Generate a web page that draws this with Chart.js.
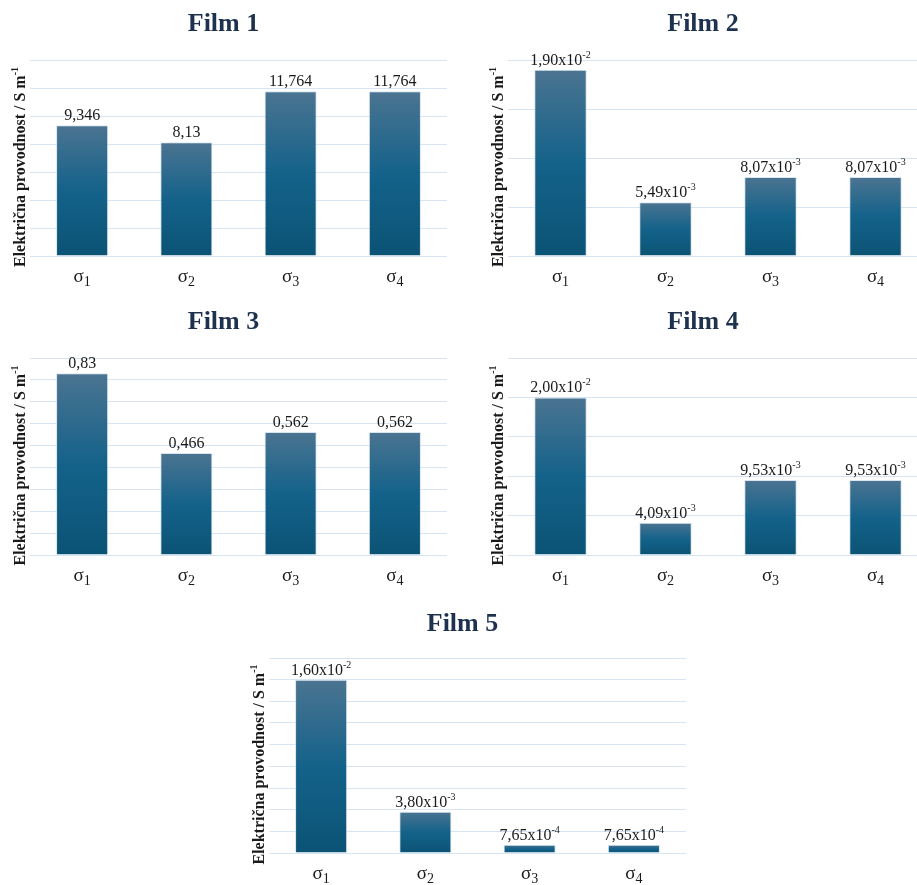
<!DOCTYPE html>
<html>
<head>
<meta charset="utf-8">
<title>Električna provodnost filmova</title>
<script src="https://cdn.jsdelivr.net/npm/chart.js@4.4.1/dist/chart.umd.min.js"></script>
<style>
  html, body { margin: 0; padding: 0; background: #fff; overflow: hidden; }
  body { width: 917px; height: 885px; position: relative; }
  .panel { position: absolute; }
</style>
</head>
<body>
<canvas id="film1" class="panel"></canvas>
<canvas id="film2" class="panel"></canvas>
<canvas id="film3" class="panel"></canvas>
<canvas id="film4" class="panel"></canvas>
<canvas id="film5" class="panel"></canvas>
<script>
const categories = ['σ1', 'σ2', 'σ3', 'σ4'];
const filmTitles = ['Film 1', 'Film 2', 'Film 3', 'Film 4', 'Film 5'];

// conductivity, S m-1
const film1Values = [9.346, 8.13, 11.764, 11.764];
const film2Values = [0.019, 0.00549, 0.00807, 0.00807];
const film3Values = [0.83, 0.466, 0.562, 0.562];
const film4Values = [0.02, 0.00409, 0.00953, 0.00953];
const film5Values = [0.016, 0.0038, 0.000765, 0.000765];

const axisMax = [14, 0.02, 0.9, 0.025, 0.018];
const axisStep = [2, 0.005, 0.1, 0.005, 0.002];
const labelStyle = ['plain', 'sci', 'plain', 'sci', 'sci'];

const yTitle = 'Električna provodnost / S m';
const yTitleExp = '-1';

const SERIF = '"Liberation Serif", "Times New Roman", serif';

// where each canvas sits and where its plot area is inside it
const panels = [
    { id: 'film1', left: 0,   top: 0,   width: 450, height: 298, plotLeft: 30, plotRight: 447, plotTop: 60, plotBottom: 256 },
    { id: 'film2', left: 478, top: 0,   width: 453, height: 298, plotLeft: 30, plotRight: 450, plotTop: 60, plotBottom: 256 },
    { id: 'film3', left: 0,   top: 298, width: 450, height: 302, plotLeft: 30, plotRight: 447, plotTop: 60, plotBottom: 257 },
    { id: 'film4', left: 478, top: 298, width: 453, height: 302, plotLeft: 30, plotRight: 450, plotTop: 60, plotBottom: 257 },
    { id: 'film5', left: 239, top: 600, width: 450, height: 285, plotLeft: 30, plotRight: 447, plotTop: 58, plotBottom: 253 }
];
const seriesValues = [film1Values, film2Values, film3Values, film4Values, film5Values];

// draws a run of text pieces (for sub/superscripts), centred on x
function drawParts(ctx, parts, x, y) {
    let total = 0;
    parts.forEach(p => {
        ctx.font = (p.weight || 'normal') + ' ' + p.size + 'px ' + SERIF;
        p.w = ctx.measureText(p.text).width;
        total += p.w;
    });
    let cx = x - total / 2;
    ctx.textAlign = 'left';
    ctx.textBaseline = 'alphabetic';
    parts.forEach(p => {
        ctx.font = (p.weight || 'normal') + ' ' + p.size + 'px ' + SERIF;
        ctx.fillText(p.text, cx, y + (p.dy || 0));
        cx += p.w;
    });
}

function valueParts(v, style) {
    if (style === 'plain') {
        return [{ text: String(v).replace('.', ','), size: 16 }];
    }
    const exp = Math.floor(Math.log10(v) + 1e-9);
    const mant = v / Math.pow(10, exp);
    return [
        { text: mant.toFixed(2).replace('.', ',') + 'x10', size: 16 },
        { text: String(exp), size: 10, dy: -7 }
    ];
}

const filmText = {
    id: 'filmText',
    afterDatasetsDraw(chart, args, opts) {
        const ctx = chart.ctx;
        const area = chart.chartArea;
        const values = chart.data.datasets[0].data;
        ctx.save();
        ctx.fillStyle = '#1a1a1a';

        // value labels above bars
        chart.getDatasetMeta(0).data.forEach((bar, i) => {
            drawParts(ctx, valueParts(values[i], opts.style), bar.x, bar.y - 5);
        });

        // category labels with subscripts
        const xScale = chart.scales.x;
        chart.data.labels.forEach((lab, i) => {
            const x = xScale.getPixelForValue(i);
            drawParts(ctx, [
                { text: lab[0], size: 19 },
                { text: lab.slice(1), size: 14, dy: 4 }
            ], x, area.bottom + 26);
        });

        // rotated axis title
        ctx.translate(25, (area.top + area.bottom) / 2 + 9);
        ctx.rotate(-Math.PI / 2);
        drawParts(ctx, [
            { text: yTitle, size: 16, weight: 'bold' },
            { text: yTitleExp, size: 10, weight: 'bold', dy: -7 }
        ], 0, 0);
        ctx.restore();
    }
};

function barFill(context) {
    const chart = context.chart;
    const y = chart.scales.y;
    if (!chart.chartArea || !y || context.type !== 'data') return '#115e85';
    const top = y.getPixelForValue(context.raw);
    const base = y.getPixelForValue(0);
    if (!isFinite(top) || base - top < 1) return '#115e85';
    const g = chart.ctx.createLinearGradient(0, top, 0, base);
    g.addColorStop(0, '#4b7491');
    g.addColorStop(0.5, '#14628a');
    g.addColorStop(1, '#0b5375');
    return g;
}

function makeChart(i) {
    const p = panels[i];
    const canvas = document.getElementById(p.id);
    canvas.width = p.width;
    canvas.height = p.height;
    canvas.style.left = p.left + 'px';
    canvas.style.top = p.top + 'px';

    const titleSize = 26;
    const titleTop = 9;

    return new Chart(canvas, {
        type: 'bar',
        data: {
            labels: categories,
            datasets: [{
                data: seriesValues[i],
                backgroundColor: barFill,
                borderColor: 'rgba(200,218,232,0.7)',
                borderWidth: 1,
                borderSkipped: 'bottom',
                barPercentage: 0.5,
                categoryPercentage: 1
            }]
        },
        options: {
            responsive: false,
            animation: false,
            devicePixelRatio: 1,
            layout: {
                autoPadding: false,
                padding: { left: 0, top: 0, bottom: 0, right: p.width - p.plotRight }
            },
            plugins: {
                legend: { display: false },
                tooltip: { enabled: false },
                title: {
                    display: true,
                    text: filmTitles[i],
                    color: '#1e3250',
                    font: { family: SERIF, size: titleSize, weight: 'bold' },
                    padding: { top: titleTop, bottom: p.plotTop - titleTop - titleSize * 1.2 }
                },
                filmText: { style: labelStyle[i] }
            },
            scales: {
                x: {
                    grid: { display: false },
                    border: { display: false },
                    ticks: { display: false },
                    afterFit: axis => { axis.height = p.height - p.plotBottom; }
                },
                y: {
                    min: 0,
                    max: axisMax[i],
                    ticks: { display: false, stepSize: axisStep[i] },
                    grid: { color: '#d6e5f3', lineWidth: 1, drawTicks: false },
                    border: { display: false },
                    afterFit: axis => { axis.width = p.plotLeft; }
                }
            }
        },
        plugins: [filmText]
    });
}

panels.forEach((p, i) => makeChart(i));
</script>
</body>
</html>
